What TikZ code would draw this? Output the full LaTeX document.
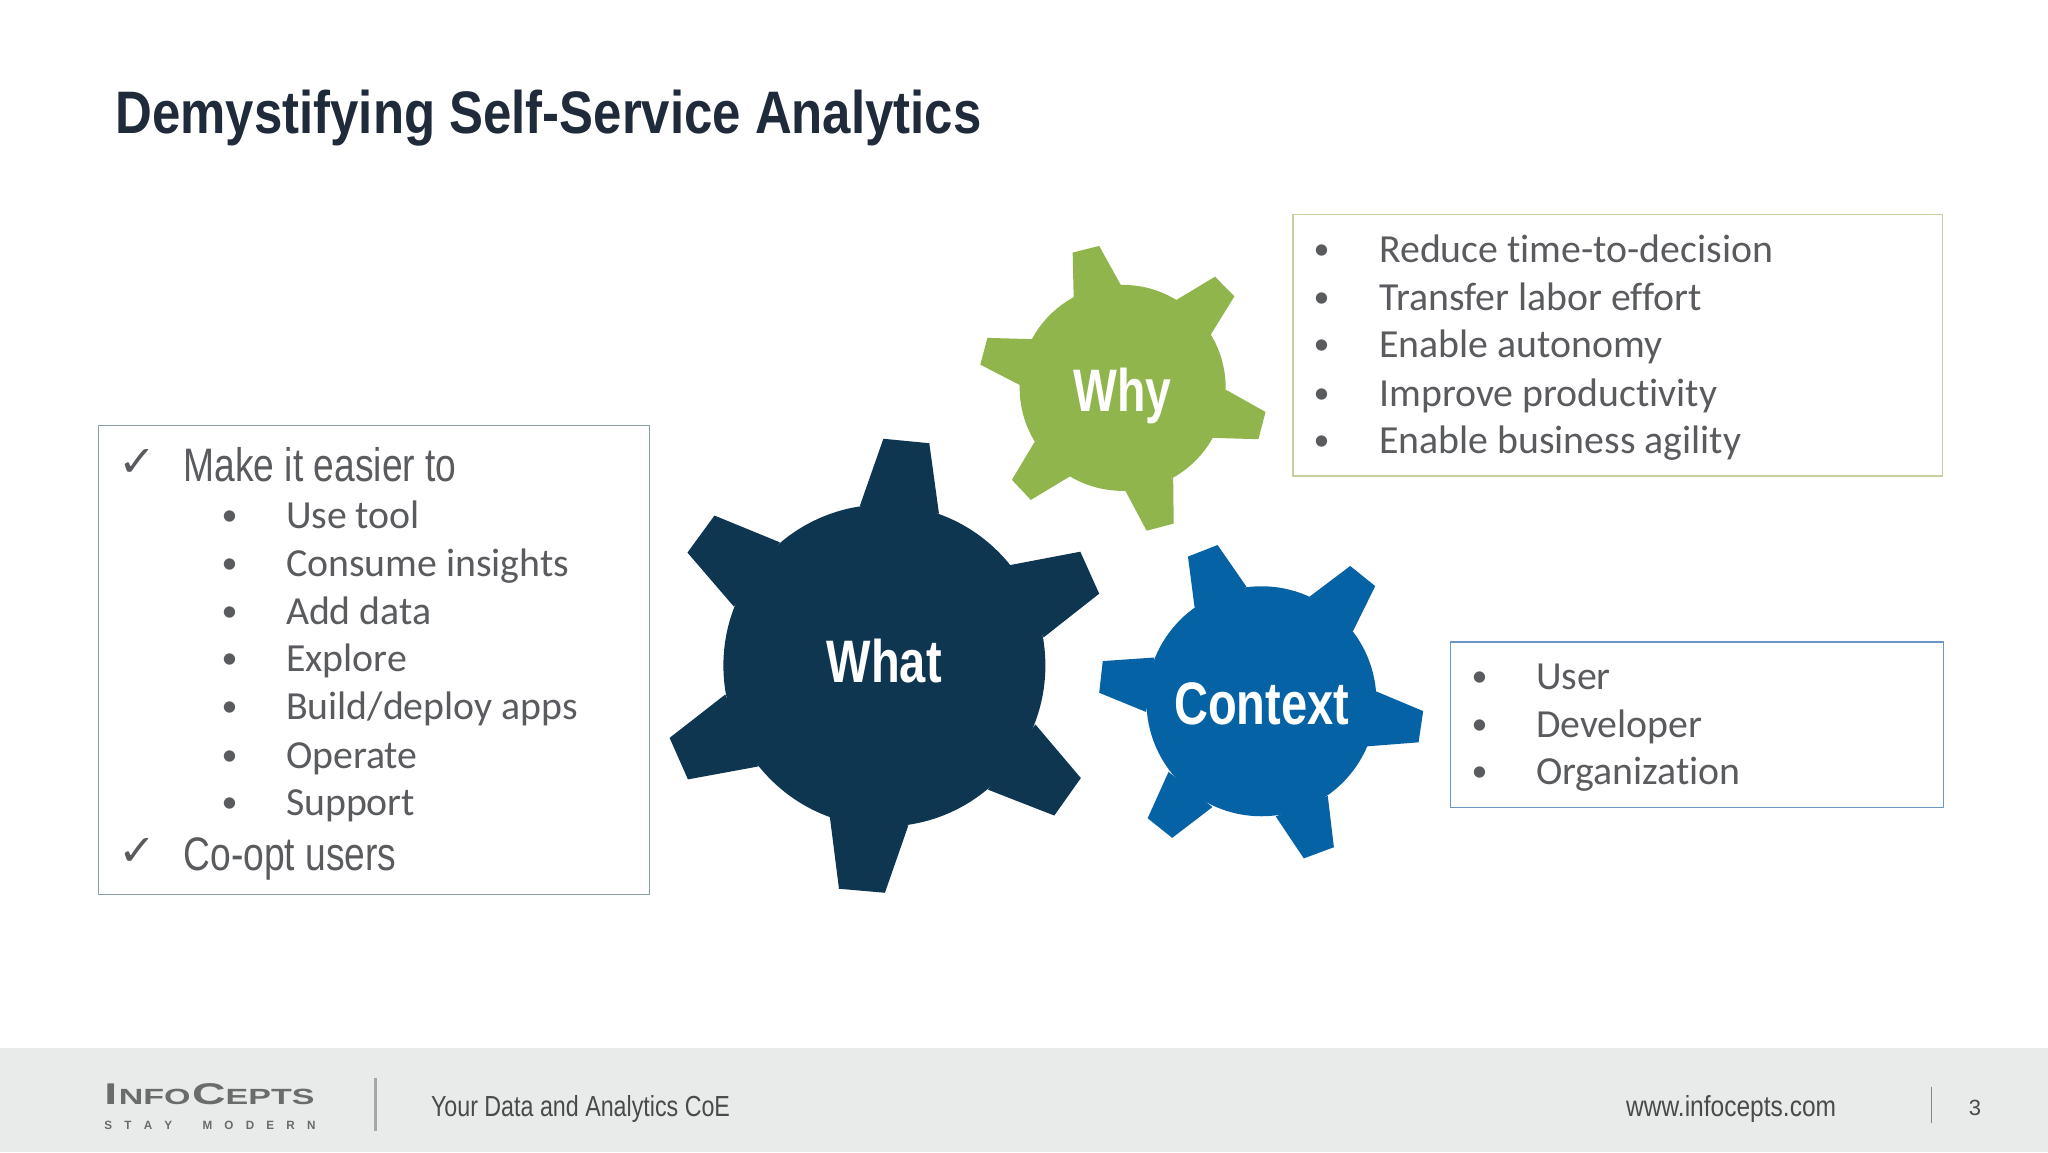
\documentclass[tikz,border=0pt]{standalone}
\usepackage{graphicx}
\usepackage{fontspec}
\setmainfont{Liberation Sans}
\newfontfamily\body[Ligatures=NoCommon]{Carlito}
\newfontfamily\symb{DejaVu Sans}
\definecolor{whatc}{HTML}{0F3650}
\definecolor{whyc}{HTML}{8FB54C}
\definecolor{ctxc}{HTML}{0563A5}
\definecolor{titlec}{HTML}{1F2A3A}
\definecolor{bodyc}{HTML}{595B5E}
\definecolor{bandc}{HTML}{E9EBEA}
\definecolor{sepc}{HTML}{A6A8A8}
\definecolor{footc}{HTML}{4A4A4A}
\definecolor{logoc}{HTML}{6A6C6C}
\definecolor{boxgrey}{HTML}{8A9FA3}
\definecolor{boxgreen}{HTML}{C5D2A0}
\definecolor{boxblue}{HTML}{6E96C4}
\newcommand{\fitw}[2]{\resizebox{#1pt}{\height}{#2}}
\tikzset{
  lbl/.style={anchor=base west,inner sep=0pt,outer sep=0pt},
  item/.style={lbl,font=\body\fontsize{39.8}{39.8}\selectfont,text=bodyc},
  dot/.style={anchor=base,inner sep=0pt,outer sep=0pt,xshift=1pt,yshift=3pt,font=\body\fontsize{32}{32}\selectfont,text=bodyc},
  head/.style={lbl,font=\fontsize{47}{47}\selectfont,text=bodyc},
  tick/.style={anchor=base,inner sep=0pt,outer sep=0pt,font=\symb\fontsize{43}{43}\selectfont,text=bodyc},
  foot/.style={lbl,font=\fontsize{29}{29}\selectfont,text=footc},
  gearlbl/.style={anchor=base,inner sep=0pt,outer sep=0pt,text=white,font=\bfseries\fontsize{60}{60}\selectfont},
  panel/.style={draw=#1,line width=1.2pt},
  gearcoords/.style={shift={(490,168.44)},x=0.510204pt,y=-0.446429pt}
}
\begin{document}
\begin{tikzpicture}[x=1.306122pt,y=-1.306122pt]
\useasboundingbox (0,0) rectangle (1568,882);
\fill[white] (0,0) rectangle (1568,882);
% footer band
\fill[bandc] (0,802) rectangle (1568,882);
% title
\node[lbl,text=titlec,font=\bfseries\fontsize{60}{60}\selectfont] (title) at (88.5,102.5) {\fitw{866}{Demystifying Self-Service Analytics}};
% panels
\draw[panel=boxgrey] (75.5,326) rectangle (497,685);
\draw[panel=boxgreen] (990,164) rectangle (1487,364.5);
\draw[panel=boxblue] (1110.5,491.5) rectangle (1488,618);
% gears
\begin{scope}[gearcoords]
\fill[whatc] (479,998) circle[radius=161pt];
\fill[whatc]
  (431,640) -- (477,490) -- (567,500) -- (586,658) -- cycle
  (725,773) -- (863,743) -- (900,837) -- (791,935) -- cycle
  (775,1130) -- (864,1250) -- (812,1334) -- (682,1276) -- cycle
  (526,1356) -- (480,1507) -- (390,1498) -- (372,1336) -- cycle
  (232,1224) -- (94,1253) -- (58,1160) -- (167,1063) -- cycle
  (184,866) -- (93,745) -- (146,662) -- (274,722) -- cycle;
\fill[whyc] (946,376) circle[radius=103pt];
\fill[whyc]
  (850,175) -- (848,73) -- (900,58) -- (943,147) -- cycle
  (1050,180) -- (1127,127) -- (1165,171) -- (1118,258) -- cycle
  (1148,380) -- (1226,430) -- (1212,491) -- (1123,488) -- cycle
  (1045,578) -- (1046,680) -- (993,696) -- (951,606) -- cycle
  (843,574) -- (766,627) -- (729,582) -- (774,496) -- cycle
  (745,370) -- (667,324) -- (681,264) -- (770,267) -- cycle;
\fill[ctxc] (1218,1078) circle[radius=115pt];
\fill[ctxc]
  (1087,868) -- (1074,754) -- (1132,728) -- (1189,822) -- cycle
  (1312,844) -- (1392,775) -- (1441,820) -- (1397,922) -- cycle
  (1443,1056) -- (1535,1100) -- (1526,1170) -- (1425,1179) -- cycle
  (1348,1290) -- (1360,1405) -- (1301,1430) -- (1246,1336) -- cycle
  (1122,1315) -- (1043,1384) -- (995,1340) -- (1036,1236) -- cycle
  (992,1102) -- (900,1059) -- (907,988) -- (1008,980) -- cycle;
\end{scope}
\node[gearlbl] (what) at (677,522.5) {\fitw{115}{What}};
\node[gearlbl] (why) at (859.5,315) {\fitw{98}{Why}};
\node[gearlbl] (context) at (966,554.5) {\fitw{175}{Context}};
% left panel
\node[tick] (t1) at (105.5,364.5) {\fitw{38}{✓}};
\node[head] (h1) at (140.5,368.5) {\fitw{273}{Make it easier to}};
\node[dot] (d1) at (175,405) {•}; \node[item] (i1) at (219,405) {Use tool};
\node[dot] (d2) at (175,441) {•}; \node[item] (i2) at (219,441) {Consume insights};
\node[dot] (d3) at (175,478) {•}; \node[item] (i3) at (219,478) {Add data};
\node[dot] (d4) at (175,514) {•}; \node[item] (i4) at (219,514) {Explore};
\node[dot] (d5) at (175,551) {•}; \node[item] (i5) at (219,551) {Build/deploy apps};
\node[dot] (d6) at (175,588) {•}; \node[item] (i6) at (219,588) {Operate};
\node[dot] (d7) at (175,624) {•}; \node[item] (i7) at (219,624) {Support};
\node[tick] (t2) at (105.5,662.5) {\fitw{38}{✓}};
\node[head] (h2) at (140.5,666.5) {\fitw{213}{Co-opt users}};
% why panel
\node[dot] (w1) at (1011,201) {•}; \node[item] (wt1) at (1056,201) {Reduce time-to-decision};
\node[dot] (w2) at (1011,238) {•}; \node[item] (wt2) at (1056,238) {Transfer labor effort};
\node[dot] (w3) at (1011,274) {•}; \node[item] (wt3) at (1056,274) {Enable autonomy};
\node[dot] (w4) at (1011,311) {•}; \node[item] (wt4) at (1056,311) {Improve productivity};
\node[dot] (w5) at (1011,347) {•}; \node[item] (wt5) at (1056,347) {Enable business agility};
% context panel
\node[dot] (c1) at (1132,528) {•}; \node[item] (ct1) at (1176,528) {User};
\node[dot] (c2) at (1132,565) {•}; \node[item] (ct2) at (1176,565) {Developer};
\node[dot] (c3) at (1132,601) {•}; \node[item] (ct3) at (1176,601) {Organization};
% footer
\node[lbl,text=logoc,font=\bfseries\fontsize{30}{30}\selectfont] (logo) at (80,846) {\fitw{210}{I\kern1pt{\fontsize{22}{22}\selectfont NFO}\kern1pt C{\fontsize{22}{22}\selectfont EPTS}}};
\node[lbl,text=logoc,font=\bfseries\fontsize{12}{12}\selectfont] (tag) at (80,864.5) {\fitw{211}{S\hspace{1.05em}T\hspace{1.05em}A\hspace{1.05em}Y\hspace{2.6em}M\hspace{1.05em}O\hspace{1.05em}D\hspace{1.05em}E\hspace{1.05em}R\hspace{1.05em}N}};
\draw[sepc,line width=3pt] (287.5,825) -- (287.5,866);
\node[foot] (cap) at (330,855) {\fitw{299}{Your Data and Analytics CoE}};
\node[foot] (web) at (1245,855) {\fitw{210}{www.infocepts.com}};
\draw[sepc!80!black,line width=1.4pt] (1479,832) -- (1479,860);
\node[foot,anchor=base,font=\fontsize{22}{22}\selectfont] (page) at (1512,854) {3};
\end{tikzpicture}
\end{document}
